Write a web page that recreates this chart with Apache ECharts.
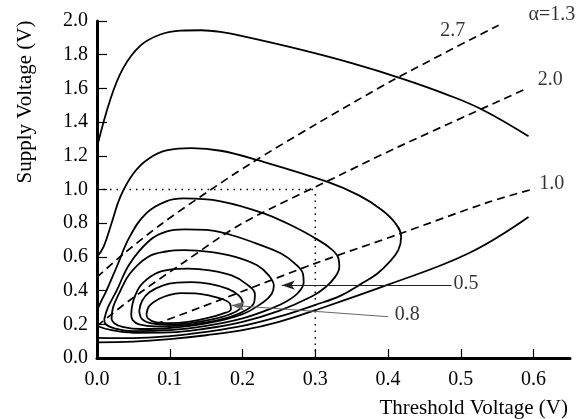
<!DOCTYPE html>
<html>
<head>
<meta charset="utf-8">
<script src="https://cdn.jsdelivr.net/npm/echarts@6/dist/echarts.min.js"></script>
<style>
  html, body { margin: 0; padding: 0; background: #fff; }
  #chart { width: 584px; height: 419px; }
</style>
</head>
<body>
<div id="chart"></div>
<script>
// Axis ranges and tick values (volts)
const xRange = [0, 0.65];
const yRange = [0, 2.0];
const xTickValues = [0.0, 0.1, 0.2, 0.3, 0.4, 0.5, 0.6];
const yTickValues = [0.0, 0.2, 0.4, 0.6, 0.8, 1.0, 1.2, 1.4, 1.6, 1.8, 2.0];

// Constant-value contours, outermost first: [threshold V, supply V]
const contour1Upper = [[0,1.25],[0.018,1.53],[0.036,1.72],[0.06,1.855],[0.087,1.92],[0.115,1.943],[0.143,1.945],[0.17,1.935],[0.2,1.91],[0.28,1.83],[0.35,1.75],[0.418,1.66],[0.48,1.565],[0.529,1.475],[0.593,1.316]];
const contour1Lower = [[0,0.093],[0.05,0.097],[0.1,0.112],[0.15,0.135],[0.2,0.165],[0.25,0.215],[0.3,0.284],[0.4,0.435],[0.51,0.62],[0.593,0.837]];
const contour2 = [[0,0.6],[0.009,0.66],[0.02,0.8],[0.032,0.956],[0.05,1.095],[0.07,1.18],[0.097,1.233],[0.13,1.245],[0.17,1.23],[0.221,1.174],[0.317,1.045],[0.36,0.965],[0.391,0.88],[0.41,0.8],[0.418,0.72],[0.414,0.64],[0.402,0.57],[0.385,0.5],[0.363,0.44],[0.335,0.37],[0.3,0.315],[0.25,0.245],[0.2,0.19],[0.15,0.155],[0.1,0.13],[0.05,0.118],[0,0.12]];
const contour3 = [[0,0.28],[0.005,0.33],[0.013,0.40],[0.027,0.54],[0.045,0.72],[0.068,0.86],[0.095,0.93],[0.119,0.947],[0.17,0.93],[0.23,0.857],[0.275,0.77],[0.3,0.71],[0.318,0.66],[0.331,0.6],[0.333,0.54],[0.327,0.48],[0.314,0.42],[0.295,0.365],[0.25,0.28],[0.2,0.215],[0.15,0.175],[0.1,0.152],[0.05,0.15],[0.02,0.165],[0,0.19]];
const contour4 = [[0.01,0.23],[0.015,0.3],[0.027,0.4],[0.045,0.56],[0.073,0.70],[0.095,0.75],[0.12,0.763],[0.15,0.76],[0.184,0.73],[0.225,0.67],[0.253,0.62],[0.272,0.56],[0.283,0.5],[0.284,0.45],[0.277,0.39],[0.262,0.34],[0.24,0.295],[0.2,0.235],[0.15,0.19],[0.1,0.165],[0.05,0.16],[0.025,0.175],[0.012,0.2],[0.01,0.23]];
const contour5 = [[0.02,0.23],[0.022,0.3],[0.03,0.38],[0.045,0.5],[0.07,0.6],[0.095,0.632],[0.12,0.64],[0.155,0.63],[0.19,0.6],[0.22,0.55],[0.236,0.49],[0.243,0.43],[0.24,0.38],[0.228,0.33],[0.2,0.26],[0.15,0.205],[0.1,0.178],[0.06,0.172],[0.035,0.185],[0.024,0.205],[0.02,0.23]];
const contour6 = [[0.047,0.26],[0.05,0.34],[0.06,0.43],[0.08,0.5],[0.1,0.525],[0.125,0.53],[0.155,0.52],[0.185,0.49],[0.205,0.44],[0.217,0.38],[0.216,0.33],[0.205,0.285],[0.18,0.24],[0.15,0.212],[0.115,0.192],[0.08,0.188],[0.058,0.2],[0.049,0.225],[0.047,0.26]];
const contour7 = [[0.058,0.28],[0.062,0.34],[0.072,0.39],[0.09,0.43],[0.11,0.447],[0.13,0.45],[0.155,0.44],[0.18,0.41],[0.195,0.37],[0.2,0.33],[0.196,0.29],[0.182,0.258],[0.16,0.23],[0.13,0.208],[0.1,0.198],[0.075,0.205],[0.062,0.23],[0.058,0.28]];
const contour8 = [[0.068,0.26],[0.072,0.31],[0.085,0.35],[0.1,0.375],[0.115,0.385],[0.135,0.383],[0.155,0.37],[0.172,0.35],[0.183,0.32],[0.184,0.29],[0.172,0.262],[0.15,0.235],[0.125,0.215],[0.1,0.207],[0.08,0.213],[0.07,0.235],[0.068,0.26]];

// Dashed constant-alpha lines
const alphaLine27 = [[0,0.48],[0.037,0.62],[0.09,0.8],[0.152,0.986],[0.211,1.154],[0.3,1.385],[0.411,1.659],[0.552,1.975]];
const alphaLine20 = [[0,0.19],[0.045,0.343],[0.12,0.57],[0.2,0.8],[0.336,1.09],[0.414,1.253],[0.591,1.6]];
const alphaLine10 = [[0.08,0.2],[0.142,0.3],[0.2,0.396],[0.299,0.56],[0.418,0.74],[0.538,0.925],[0.602,1.006]];

// Dotted guides marking Vdd = 1.0 V and Vth = 0.3 V
const guideHorizontal = [[0,1.0],[0.3,1.0]];
const guideVertical = [[0.3,0],[0.3,1.0]];

// Annotation texts and their anchor points
const alphaLabels = [
  { text: 'α=1.3', at: [0.625, 2.035] },
  { text: '2.7', at: [0.489, 1.945] },
  { text: '2.0', at: [0.623, 1.649] },
  { text: '1.0', at: [0.625, 1.037] }
];
const pointerLabels = [
  { text: '0.5', at: [0.490, 0.443] },
  { text: '0.8', at: [0.409, 0.254] }
];
// Pointer arrows: [from, to]
const arrow05 = [[0.487, 0.432], [0.254, 0.432]];
const arrow08 = [[0.400, 0.245], [0.185, 0.313]];

const SERIF = '"Liberation Serif", "Times New Roman", serif';

function solid(data) {
  return {
    type: 'line', data: data, smooth: 0.4, symbol: 'none', silent: true,
    lineStyle: { color: '#000', width: 1.8 }, z: 3
  };
}
function dashed(data) {
  return {
    type: 'line', data: data, smooth: 0.3, symbol: 'none', silent: true,
    lineStyle: { color: '#000', width: 1.7, type: [8, 5] }, z: 2
  };
}
function dotted(data) {
  return {
    type: 'line', data: data, symbol: 'none', silent: true,
    lineStyle: { color: '#000', width: 1.5, type: [1.5, 5] }, z: 1
  };
}
function arrowMark(pair, color) {
  return [{ coord: pair[0], lineStyle: { color: color } }, { coord: pair[1] }];
}

const chart = echarts.init(document.getElementById('chart'));

chart.setOption({
  animation: false,
  backgroundColor: '#fff',
  grid: { left: 97, right: 14, top: 21, bottom: 61, containLabel: false },
  xAxis: {
    type: 'value', min: xRange[0], max: xRange[1], interval: 0.1,
    axisLine: { lineStyle: { color: '#000', width: 3 } },
    axisTick: { inside: true, length: 9, customValues: xTickValues, lineStyle: { color: '#000', width: 1.2 } },
    axisLabel: {
      customValues: xTickValues, color: '#000', fontFamily: SERIF, fontSize: 20, margin: 12,
      formatter: v => v.toFixed(1)
    },
    splitLine: { show: false }
  },
  yAxis: {
    type: 'value', min: yRange[0], max: yRange[1], interval: 0.2,
    axisLine: { lineStyle: { color: '#000', width: 3 } },
    axisTick: { inside: true, length: 10, customValues: yTickValues, lineStyle: { color: '#000', width: 1.2 } },
    axisLabel: {
      customValues: yTickValues, color: '#000', fontFamily: SERIF, fontSize: 20, margin: 9,
      formatter: v => v.toFixed(1)
    },
    splitLine: { show: false }
  },
  series: [
    dotted(guideHorizontal),
    Object.assign(dotted(guideVertical), {
      markLine: {
        silent: true, symbol: ['none', 'arrow'], symbolSize: [7, 13],
        label: { show: false },
        lineStyle: { color: '#222', width: 1, type: 'solid' },
        data: [arrowMark(arrow05, '#222'), arrowMark(arrow08, '#666')]
      }
    }),
    dashed(alphaLine27),
    dashed(alphaLine20),
    dashed(alphaLine10),
    solid(contour1Upper),
    solid(contour1Lower),
    solid(contour2),
    solid(contour3),
    solid(contour4),
    solid(contour5),
    solid(contour6),
    solid(contour7),
    solid(contour8),
    {
      type: 'scatter', silent: true, clip: false, symbolSize: 0, z: 5,
      data: alphaLabels.map(d => ({ value: d.at, name: d.text })),
      label: {
        show: true, position: 'inside', formatter: p => p.name,
        color: '#000', fontFamily: SERIF, fontSize: 20
      }
    },
    {
      type: 'scatter', silent: true, clip: false, symbolSize: 0, z: 5,
      data: pointerLabels.map(d => ({ value: d.at, name: d.text })),
      label: {
        show: true, position: 'right', distance: 0, formatter: p => p.name,
        color: '#000', fontFamily: SERIF, fontSize: 20
      }
    }
  ],
  graphic: [
    {
      type: 'text', x: 568, y: 408, silent: true,
      style: {
        text: 'Threshold Voltage (V)', fill: '#000', font: '21px ' + SERIF,
        align: 'right', verticalAlign: 'middle'
      }
    },
    {
      type: 'text', x: 25, y: 102, rotation: Math.PI / 2, silent: true,
      style: {
        text: 'Supply Voltage (V)', fill: '#000', font: '21px ' + SERIF,
        align: 'center', verticalAlign: 'middle'
      }
    }
  ]
});
</script>
</body>
</html>
